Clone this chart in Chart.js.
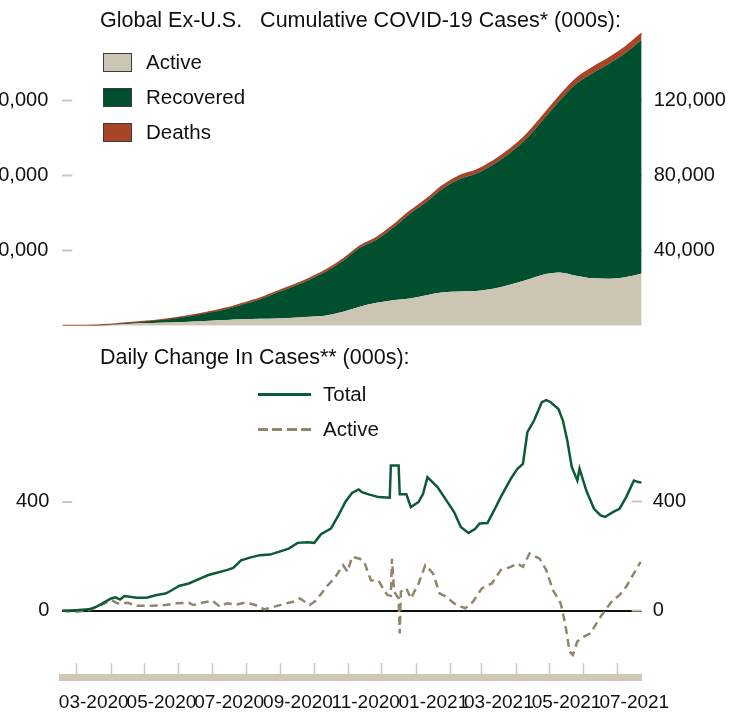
<!DOCTYPE html>
<html>
<head>
<meta charset="utf-8">
<script src="https://cdn.jsdelivr.net/npm/chart.js@4.4.1/dist/chart.umd.min.js"></script>
<style>
  html, body { margin: 0; padding: 0; background: #fff; }
  body { width: 742px; height: 715px; position: relative; overflow: hidden;
         font-family: 'Liberation Sans', Arial, sans-serif; color: #111; }
  canvas { position: absolute; left: -30px; }
  #cumChart { top: 0; }
  #dailyChart { top: 340px; }
  .title { position: absolute; left: 100px; font-size: 21.5px; line-height: 24px; white-space: pre; }
  .key { position: absolute; font-size: 20.5px; line-height: 24px; }
  .swatch { position: absolute; width: 27px; height: 17px; border: 1px solid #3a3a3a; }
  .stroke { position: absolute; width: 53px; height: 2.5px; }
</style>
</head>
<body>
<canvas id="cumChart" width="772" height="340"></canvas>
<canvas id="dailyChart" width="772" height="375"></canvas>

<div class="title" style="top:8px">Global Ex-U.S.   Cumulative COVID-19 Cases* (000s):</div>
<div class="swatch" style="left:103px;top:53px;background:#ccc5b3"></div>
<div class="key" style="left:146px;top:50px">Active</div>
<div class="swatch" style="left:103px;top:88px;background:#005030"></div>
<div class="key" style="left:146px;top:85px">Recovered</div>
<div class="swatch" style="left:103px;top:123px;background:#a84428"></div>
<div class="key" style="left:146px;top:120px">Deaths</div>

<div class="title" style="top:345px">Daily Change In Cases** (000s):</div>
<div class="stroke" style="left:258px;top:393px;background:#0d5a36"></div>
<div class="key" style="left:323px;top:382px">Total</div>
<div class="stroke" style="left:258px;top:428px;background:repeating-linear-gradient(to right,#8f866b 0 10px,transparent 10px 14.3px)"></div>
<div class="key" style="left:323px;top:417px">Active</div>

<script>
Chart.defaults.font.family = "'Liberation Sans', Arial, sans-serif"

// x values are days counted from 1 March 2020
const firstDay = -13
const lastDay = 509
const monthStarts = [0, 31, 61, 92, 122, 153, 184, 214, 245, 275, 306, 337, 365, 396, 426, 457, 487]
const monthLabels = ['03-2020', '', '05-2020', '', '07-2020', '', '09-2020', '', '11-2020', '', '01-2021', '', '03-2021', '', '05-2021', '', '07-2021']

// cumulative cases (000s)
const cumDays = [-13, 0, 15, 30, 45, 60, 75, 90, 105, 120, 135, 150, 165, 180, 195, 210, 225, 240, 255, 270, 285, 300, 315, 330, 345, 360, 375, 390, 405, 420, 435, 450, 465, 480, 495, 509]
const cumActive = [55, 45, 110, 500, 950, 1250, 1520, 1850, 2250, 2670, 3070, 3450, 3750, 3900, 4280, 4780, 5500, 7450, 10150, 12250, 13600, 14500, 16300, 17800, 18250, 18500, 19700, 21800, 24350, 27200, 28400, 26600, 25250, 25100, 26000, 27900]
const cumRecovered = [13, 42, 64, 140, 340, 760, 1330, 2160, 3120, 4350, 5890, 8050, 10290, 13680, 16640, 19880, 23600, 27170, 31360, 33630, 38640, 45100, 49670, 55340, 59990, 62660, 66180, 70190, 75310, 82480, 91560, 102420, 109560, 114730, 119660, 124600]
const cumDeaths = [2, 3, 6, 30, 110, 190, 250, 290, 330, 380, 440, 500, 560, 620, 680, 740, 800, 880, 990, 1120, 1260, 1400, 1530, 1660, 1760, 1840, 1920, 2010, 2140, 2320, 2540, 2780, 2990, 3170, 3340, 3500]
const cumTicks = [40000, 80000, 120000]

// daily change in cases (000s)
const totalDays = [-13, -1, 11, 18, 31, 35, 39, 43, 48, 54, 63, 71, 80, 86, 92, 101, 110, 118, 127, 135, 141, 148, 156, 165, 174, 182, 191, 199, 208, 214, 220, 229, 235, 242, 248, 254, 257, 263, 272, 282, 283, 290, 291, 297, 301, 308, 312, 316, 325, 333, 340, 346, 353, 359, 363, 370, 376, 382, 391, 397, 402, 406, 412, 419, 423, 427, 434, 438, 442, 446, 451, 453, 459, 466, 472, 476, 483, 489, 495, 502, 506, 509]
const totalChange = [0, 2, 5, 15, 45, 49, 41, 54, 51, 48, 48, 57, 63, 76, 91, 100, 116, 130, 140, 149, 157, 185, 195, 204, 206, 216, 228, 249, 251, 249, 281, 301, 344, 399, 432, 445, 435, 427, 417, 415, 533, 533, 427, 427, 380, 399, 429, 490, 454, 405, 362, 307, 285, 301, 320, 322, 368, 417, 484, 521, 539, 655, 698, 765, 773, 765, 740, 698, 624, 527, 478, 521, 442, 374, 350, 344, 362, 374, 417, 478, 472, 470]
const activeDays = [-13, -1, 11, 22, 31, 37, 46, 54, 67, 80, 90, 101, 105, 114, 122, 129, 135, 144, 152, 161, 169, 178, 186, 195, 201, 210, 216, 225, 233, 240, 244, 248, 255, 259, 265, 272, 276, 280, 283, 284, 286, 290, 291, 292, 297, 301, 308, 314, 321, 327, 333, 340, 346, 350, 357, 365, 374, 382, 391, 397, 402, 408, 417, 423, 429, 436, 440, 444, 447, 451, 457, 463, 470, 476, 483, 489, 495, 502, 508]
const activeChange = [0, -4, 2, 21, 39, 27, 29, 18, 18, 21, 27, 29, 21, 30, 37, 15, 27, 23, 30, 21, 5, 15, 24, 33, 45, 21, 39, 88, 124, 167, 143, 198, 191, 179, 112, 110, 82, 57, 55, 191, 70, 45, -83, 70, 82, 45, 100, 167, 137, 63, 51, 27, 15, 9, 33, 82, 100, 149, 161, 173, 161, 210, 191, 149, 76, 27, -46, -150, -162, -113, -95, -83, -34, 2, 39, 57, 88, 137, 179]
const dailyTicks = [0, 400]

const sand = '#ccc5b3'
const tickSand = '#cfc8b6'
const pts = (xs, ys) => xs.map((x, i) => ({ x, y: ys[i] }))
const fmt = v => v.toLocaleString('en-US')

const sideAxis = (pos, ticks, width, pad, extra) => Object.assign({
  position: pos,
  afterBuildTicks: s => { s.ticks = ticks.map(v => ({ value: v })) },
  // fixed widths, and no extra room for the end labels
  afterFit: s => { s.width = width; s.paddingTop = 0; s.paddingBottom = 0 },
  border: { display: false },
  grid: { drawOnChartArea: false, tickLength: -10, tickColor: tickSand, tickWidth: 2 },
  ticks: { padding: pad, color: '#111', font: { size: 20 }, callback: fmt }
}, extra)

new Chart(document.getElementById('cumChart'), {
  type: 'line',
  data: {
    datasets: [
      { label: 'Active', data: pts(cumDays, cumActive), backgroundColor: sand, borderWidth: 0, fill: 'origin' },
      { label: 'Recovered', data: pts(cumDays, cumRecovered), backgroundColor: '#005030', borderWidth: 0, fill: '-1' },
      { label: 'Deaths', data: pts(cumDays, cumDeaths), backgroundColor: '#a84428', borderColor: '#a84428', borderWidth: 1.5, fill: '-1' }
    ]
  },
  options: {
    responsive: false,
    animation: false,
    layout: { padding: { top: 25.7, bottom: 14.3 } },
    elements: { point: { radius: 0 }, line: { cubicInterpolationMode: 'monotone' } },
    plugins: { legend: { display: false }, tooltip: { enabled: false } },
    scales: {
      x: { type: 'linear', min: firstDay, max: lastDay, display: false },
      y: sideAxis('left', cumTicks, 92.3, 24, { stacked: true, min: 0, max: 160000 }),
      y2: sideAxis('right', cumTicks, 100.3, 22, { min: 0, max: 160000 })
    }
  }
})

const zeroLine = { color: c => c.tick && c.tick.value === 0 ? '#111' : 'rgba(0,0,0,0)',
  lineWidth: 2, tickLength: -10, tickWidth: 2,
  tickColor: c => c.tick && c.tick.value === 0 ? '#111' : tickSand }

new Chart(document.getElementById('dailyChart'), {
  type: 'line',
  data: {
    datasets: [
      { label: 'Total', data: pts(totalDays, totalChange), borderColor: '#0d5a36', borderWidth: 2.5, fill: false },
      { label: 'Active', data: pts(activeDays, activeChange), borderColor: '#8f866b', borderWidth: 2.5, borderDash: [8, 5], fill: false }
    ]
  },
  options: {
    responsive: false,
    animation: false,
    layout: { padding: { top: 52.7 } },
    elements: { point: { radius: 0 }, line: { tension: 0 } },
    plugins: { legend: { display: false }, tooltip: { enabled: false } },
    scales: {
      x: {
        type: 'linear', min: firstDay, max: lastDay, position: 'bottom',
        afterBuildTicks: s => { s.ticks = monthStarts.map(v => ({ value: v })) },
        afterFit: s => { s.height = 37.5; s.paddingLeft = 0; s.paddingRight = 0 },
        border: { display: true, color: tickSand, width: 7 },
        grid: { drawOnChartArea: false, tickLength: -14.5, tickColor: tickSand, tickWidth: 1.5 },
        ticks: { autoSkip: false, minRotation: 0, maxRotation: 0, padding: 28.6, labelOffset: 17,
          color: '#111', font: { size: 19 }, callback: (v, i) => monthLabels[i] }
      },
      y: sideAxis('left', dailyTicks, 92.3, 23, { min: -245, max: 800, grid: Object.assign({ drawOnChartArea: true }, zeroLine) }),
      y2: sideAxis('right', dailyTicks, 100.3, 21, { min: -245, max: 800 })
    }
  }
})
</script>
</body>
</html>
